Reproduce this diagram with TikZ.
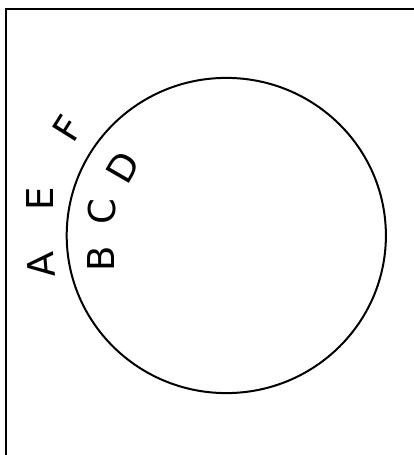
\documentclass[tikz,border=0pt]{standalone}
\usepackage{fontspec}
\setsansfont{DejaVu Sans}
\usepackage{tikz}

\tikzset{
  letter/.style={font=\fontsize{37}{40}\selectfont\sffamily,inner sep=0pt,anchor=center},
}

\begin{document}
\begin{tikzpicture}[x=1pt,y=1pt]
    \useasboundingbox (0,0) rectangle (414,455);
    \draw[line width=1.3pt] (6,0) -- (6,446) -- (414,446);
    \draw[line width=2pt] (226.3,219.5) ellipse [x radius=159.6, y radius=157.6];
    % labels outside the rim
    \node[letter,rotate=95] (lblA) at (41,190) {A};
    \node[letter,rotate=90] (lblE) at (40,256) {E};
    \node[letter,rotate=58] (lblF) at (68,327) {F};
    % labels inside the rim
    \node[letter,rotate=90] (lblB) at (101,196) {B};
    \node[letter,rotate=90] (lblC) at (102,243) {C};
    \node[letter,rotate=60] (lblD) at (123,288) {D};
\end{tikzpicture}
\end{document}
